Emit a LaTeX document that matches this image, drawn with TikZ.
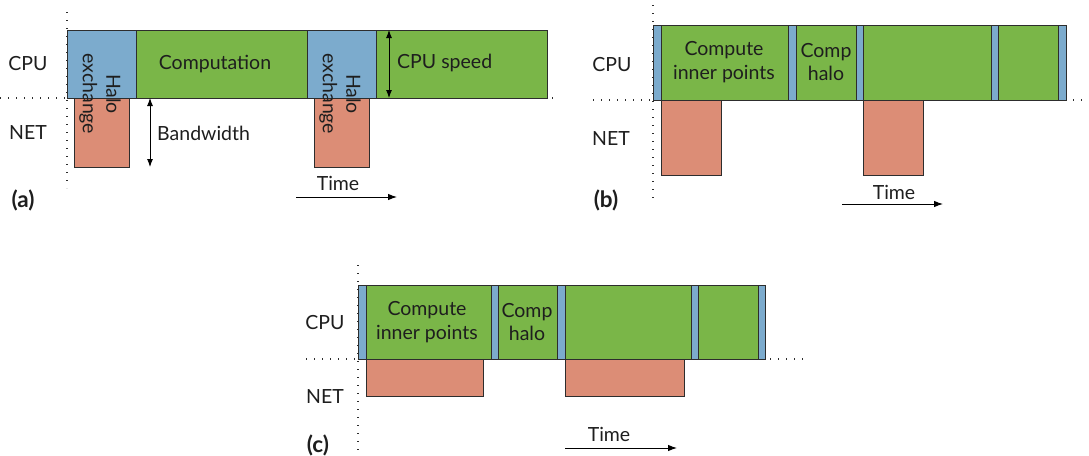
\documentclass[tikz,border=0pt]{standalone}
\usepackage{fontspec}
\setmainfont{Lato}
\usetikzlibrary{arrows.meta}
\definecolor{hblue}{RGB}{124,171,205}
\definecolor{cgreen}{RGB}{122,182,72}
\definecolor{nred}{RGB}{220,141,118}
\definecolor{edge}{RGB}{45,45,45}
\definecolor{ink}{RGB}{30,30,30}
\begin{document}
\begin{tikzpicture}[x=1pt,y=-1pt,
  font=\fontsize{19.5}{23.5}\selectfont, text=ink,
  seg/.style={draw=edge, line width=0.9pt, inner sep=0pt, anchor=north west, outer sep=0pt},
  halobox/.style={seg, fill=hblue},
  compbox/.style={seg, fill=cgreen},
  netbox/.style={seg, fill=nred},
  lbl/.style={inner sep=0pt, align=center},
  plabel/.style={inner sep=0pt, font=\fontsize{22.5}{26}\selectfont\bfseries},
  guide/.style={line width=1.1pt, dash pattern=on 1.1pt off 6.9pt, edge},
  dim/.style={line width=0.9pt, {Latex[length=8pt,width=6pt]}-{Latex[length=8pt,width=6pt]}},
  timearrow/.style={line width=0.9pt, -{Latex[length=9pt,width=6.5pt]}}
]
\useasboundingbox (0,0) rectangle (1089,455);
\newcommand{\seg}[7]{\node[#2, minimum width={#4pt-#3pt}, minimum height={#6pt-#5pt}] (#1) at (#3,#5) {};}

% ---------------- panel (a) ----------------
\draw[guide] (0,98) -- (556,98);
\draw[guide] (67,12) -- (67,188);
\seg{ab1}{halobox}{67}{136}{30}{98}{}
\seg{ag1}{compbox}{136}{307}{30}{98}{}
\seg{ab2}{halobox}{307}{376}{30}{98}{}
\seg{ag2}{compbox}{376}{547}{30}{98}{}
\seg{ar1}{netbox}{74}{129}{98}{167}{}
\seg{ar2}{netbox}{314}{369}{98}{167}{}
\node[lbl] (tcomp) at (215,64) {Computation};
\node[lbl, rotate=-90] (th1) at (100,94) {Halo\\exchange};
\node[lbl, rotate=-90] (th2) at (340,94) {Halo\\exchange};
\coordinate (cs1) at (389,30);
\coordinate (cs2) at (389,98);
\draw[dim] (cs1) -- (cs2);
\node[lbl, anchor=west] (tcs) at (397,63) {CPU speed};
\coordinate (bw1) at (150,98);
\coordinate (bw2) at (150,167);
\draw[dim] (bw1) -- (bw2);
\node[lbl, anchor=west] (tbw) at (157,133) {Bandwidth};
\node[lbl] (acpu) at (28,64) {CPU};
\node[lbl] (anet) at (28,133) {NET};
\node[lbl] (atime) at (338,183) {Time};
\coordinate (at1) at (296,197);
\coordinate (at2) at (397,197);
\draw[timearrow] (at1) -- (at2);
\node[plabel] (pa) at (23,200) {(a)};

% ---------------- panel (b) ----------------
\draw[guide] (593,100) -- (1089,100);
\draw[guide] (653,5) -- (653,200);
\seg{bb1}{halobox}{653}{661}{25}{100}{}
\seg{bg1}{compbox}{661}{788}{25}{100}{}
\seg{bb2}{halobox}{788}{796}{25}{100}{}
\seg{bg2}{compbox}{796}{856}{25}{100}{}
\seg{bb3}{halobox}{856}{863}{25}{100}{}
\seg{bg3}{compbox}{863}{991}{25}{100}{}
\seg{bb4}{halobox}{991}{998}{25}{100}{}
\seg{bg4}{compbox}{998}{1058}{25}{100}{}
\seg{bb5}{halobox}{1058}{1066}{25}{100}{}
\seg{br1}{netbox}{661}{721}{100}{175}{}
\seg{br2}{netbox}{863}{923}{100}{175}{}
\node[lbl] (tb1) at (724,62) {Compute\\inner points};
\node[lbl] (tb2) at (826,62) {Comp\\halo};
\node[lbl] (bcpu) at (612,65) {CPU};
\node[lbl] (bnet) at (611,139) {NET};
\node[lbl] (btime) at (894,192) {Time};
\coordinate (bt1) at (842,204);
\coordinate (bt2) at (943,204);
\draw[timearrow] (bt1) -- (bt2);
\node[plabel] (pb) at (606,200) {(b)};

% ---------------- panel (c) ----------------
\draw[guide] (306,359) -- (803,359);
\draw[guide] (358,265) -- (358,452);
\seg{cb1}{halobox}{358}{366}{285}{359}{}
\seg{cg1}{compbox}{366}{491}{285}{359}{}
\seg{cb2}{halobox}{491}{498}{285}{359}{}
\seg{cg2}{compbox}{498}{557}{285}{359}{}
\seg{cb3}{halobox}{557}{565}{285}{359}{}
\seg{cg3}{compbox}{565}{691}{285}{359}{}
\seg{cb4}{halobox}{691}{698}{285}{359}{}
\seg{cg4}{compbox}{698}{758}{285}{359}{}
\seg{cb5}{halobox}{758}{765}{285}{359}{}
\seg{cr1}{netbox}{366}{483}{359}{396}{}
\seg{cr2}{netbox}{565}{684}{359}{396}{}
\node[lbl] (tc1) at (427,322) {Compute\\inner points};
\node[lbl] (tc2) at (527,322) {Comp\\halo};
\node[lbl] (ccpu) at (325,323) {CPU};
\node[lbl] (cnet) at (325,397) {NET};
\node[lbl] (ctime) at (609,434) {Time};
\coordinate (ct1) at (565,448);
\coordinate (ct2) at (677,448);
\draw[timearrow] (ct1) -- (ct2);
\node[plabel] (pc) at (318,445) {(c)};
\end{tikzpicture}
\end{document}
